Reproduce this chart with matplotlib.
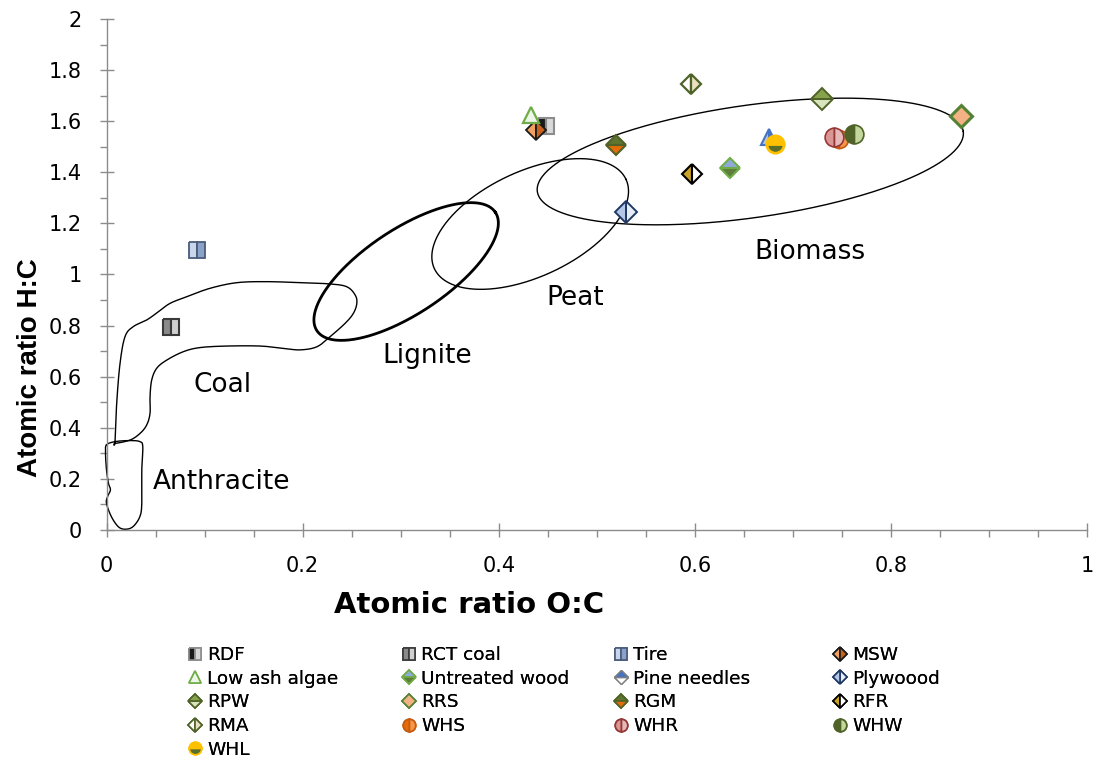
import numpy as np
import matplotlib
matplotlib.use("Agg")
import matplotlib.pyplot as plt
from matplotlib.lines import Line2D

# ---------------- data ----------------
names = ["RDF", "RCT coal", "Tire", "MSW", "Low ash algae", "Untreated wood",
         "Pine needles", "Plywoood", "RPW", "RRS", "RGM", "RFR", "RMA",
         "WHS", "WHR", "WHW", "WHL"]
oc_ratio = [0.448, 0.066, 0.092, 0.438, 0.433, 0.636, 0.676, 0.530, 0.730,
            0.871, 0.520, 0.597, 0.596, 0.747, 0.742, 0.762, 0.682]
hc_ratio = [1.581, 0.793, 1.096, 1.566, 1.624, 1.416, 1.537, 1.246, 1.686,
            1.620, 1.507, 1.393, 1.746, 1.530, 1.539, 1.550, 1.510]

# region outlines (O:C, H:C)
anthracite_x = [0.000, 0.009, 0.024, 0.034, 0.037, 0.036, 0.036, 0.034, 0.027,
                0.019, 0.012, 0.005, 0.000, 0.001, 0.004, 0.002, 0.000, -0.001]
anthracite_y = [0.333, 0.346, 0.350, 0.346, 0.326, 0.235, 0.104, 0.052, 0.013,
                0.003, 0.013, 0.052, 0.104, 0.130, 0.157, 0.183, 0.235, 0.300]
coal_x = [0.0087, 0.0104, 0.0138, 0.0189, 0.0273, 0.041, 0.0529, 0.0648, 0.0818,
          0.1056, 0.1329, 0.1635, 0.1974, 0.2281, 0.2451, 0.2536, 0.2553, 0.2518,
          0.2434, 0.2281, 0.2145, 0.1974, 0.1804, 0.1566, 0.1227, 0.0954, 0.0784,
          0.0614, 0.0512, 0.0461, 0.0444, 0.0444, 0.041, 0.0342, 0.024, 0.0087]
coal_y = [0.346, 0.496, 0.652, 0.757, 0.796, 0.822, 0.854, 0.887, 0.913,
          0.946, 0.968, 0.972, 0.968, 0.963, 0.952, 0.920, 0.887, 0.848,
          0.809, 0.757, 0.717, 0.705, 0.711, 0.720, 0.720, 0.714, 0.698,
          0.665, 0.633, 0.587, 0.522, 0.457, 0.411, 0.378, 0.352, 0.339]
# ellipses: centre and two conjugate half-axis vectors, in data units
lignite_ell = dict(c=(0.3056, 1.0117), u=(0.0910, 0.2317), v=(-0.0238, 0.1377))
peat_ell = dict(c=(0.4321, 1.1977), u=(0.0977, 0.1749), v=(-0.0227, 0.1866))
biomass_ell = dict(c=(0.6566, 1.4423), u=(0.2172, 0.1178), v=(-0.0080, 0.2181))

region_labels = ["Biomass", "Peat", "Lignite", "Coal", "Anthracite"]
region_label_x = [0.717, 0.478, 0.327, 0.118, 0.117]
region_label_y = [1.088, 0.908, 0.681, 0.568, 0.188]

# ---------------- styles ----------------
styles = {
    "RDF": dict(marker="s", ms=12, mfc="#1a1a1a", mfcalt="#d9d9d9", fillstyle="left", mec="#8c8c8c", mew=1.5),
    "RCT coal": dict(marker="s", ms=12, mfc="#8a8a8a", mfcalt="#d0d0d0", fillstyle="left", mec="#3a3a3a", mew=1.5),
    "Tire": dict(marker="s", ms=12, mfc="#c8d5ea", mfcalt="#8aa2c8", fillstyle="left", mec="#4a5b7b", mew=1.3),
    "MSW": dict(marker="D", ms=10.5, mfc="#f0a060", mfcalt="#c8621f", fillstyle="left", mec="#1a1a1a", mew=1.3),
    "Low ash algae": dict(marker="^", ms=12, mfc="#eef6e8", mfcalt="#eef6e8", fillstyle="full", mec="#70ad47", mew=1.6),
    "Untreated wood": dict(marker="D", ms=10.5, mfc="#8eaadb", mfcalt="#5f7d3a", fillstyle="top", mec="#70ad47", mew=1.5),
    "Pine needles": dict(marker="^", ms=12, mfc="#b9c6dc", mfcalt="#4472c4", fillstyle="left", mec="#4472c4", mew=1.5),
    "Plywoood": dict(marker="D", ms=11, mfc="#e6edf7", mfcalt="#b4c7e7", fillstyle="right", mec="#1f3864", mew=1.4),
    "RPW": dict(marker="D", ms=11.5, mfc="#d8e4bc", mfcalt="#86a34c", fillstyle="bottom", mec="#4f6228", mew=1.4),
    "RRS": dict(marker="D", ms=11, mfc="#f4b183", mfcalt="#f4b183", fillstyle="full", mec="#548235", mew=2.2),
    "RGM": dict(marker="D", ms=10.5, mfc="#5f7530", mfcalt="#e36c09", fillstyle="top", mec="#4f6228", mew=1.5),
    "RFR": dict(marker="D", ms=10.5, mfc="#c9a227", mfcalt="#ffffff", fillstyle="left", mec="#000000", mew=1.5),
    "RMA": dict(marker="D", ms=10.5, mfc="#ffffff", mfcalt="#e8e0c0", fillstyle="left", mec="#4f6228", mew=1.6),
    "WHS": dict(marker="o", ms=13, mfc="#e46c0a", mfcalt="#f79646", fillstyle="left", mec="#c55a11", mew=1.2),
    "WHR": dict(marker="o", ms=13.5, mfc="#d99694", mfcalt="#e6b9b8", fillstyle="left", mec="#953735", mew=1.2),
    "WHW": dict(marker="o", ms=13.5, mfc="#4f6228", mfcalt="#c3d69b", fillstyle="left", mec="#4f6228", mew=1.2),
    "WHL": dict(marker="o", ms=12.5, mfc="#ffc000", mfcalt="#5a6e2a", fillstyle="top", mec="#ffc000", mew=2.0),
}
legend_override = {"Pine needles": dict(marker="D", ms=8, mfc="#ffffff", mfcalt="#4472c4", fillstyle="bottom", mec="#7f7f7f", mew=1.0)}

# ---------------- figure ----------------
fig = plt.figure(figsize=(11, 7.6), dpi=100)
ax = fig.add_axes([106.5 / 1100, (760 - 530) / 760, 980.5 / 1100, 511 / 760])


def smooth_closed(xs, ys, n=12):
    xs = np.asarray(xs); ys = np.asarray(ys)
    m = len(xs)
    ox, oy = [], []
    for i in range(m):
        p0 = np.array([xs[(i - 1) % m], ys[(i - 1) % m]])
        p1 = np.array([xs[i], ys[i]])
        p2 = np.array([xs[(i + 1) % m], ys[(i + 1) % m]])
        p3 = np.array([xs[(i + 2) % m], ys[(i + 2) % m]])
        for t in np.linspace(0, 1, n, endpoint=False):
            t2, t3 = t * t, t * t * t
            p = 0.5 * ((2 * p1) + (-p0 + p2) * t + (2 * p0 - 5 * p1 + 4 * p2 - p3) * t2
                       + (-p0 + 3 * p1 - 3 * p2 + p3) * t3)
            ox.append(p[0]); oy.append(p[1])
    ox.append(ox[0]); oy.append(oy[0])
    return ox, oy


def ellipse_xy(e):
    t = np.linspace(0, 2 * np.pi, 400)
    cx, cy = e["c"]; ux, uy = e["u"]; vx, vy = e["v"]
    return cx + ux * np.cos(t) + vx * np.sin(t), cy + uy * np.cos(t) + vy * np.sin(t)


ax_, ay_ = smooth_closed(anthracite_x, anthracite_y)
ax.plot(ax_, ay_, color="black", lw=1.0, clip_on=False, zorder=2)
cx_, cy_ = smooth_closed(coal_x, coal_y)
ax.plot(cx_, cy_, color="black", lw=1.0, clip_on=False, zorder=2)
for e, lw in [(lignite_ell, 2.0), (peat_ell, 1.0), (biomass_ell, 1.0)]:
    ex, ey = ellipse_xy(e)
    ax.plot(ex, ey, color="black", lw=lw, zorder=2)

for lab, lx, ly in zip(region_labels, region_label_x, region_label_y):
    ax.text(lx, ly, lab, fontsize=19, family="DejaVu Sans", ha="center", va="center", color="black")

handles = []
for n, x, y in zip(names, oc_ratio, hc_ratio):
    s = styles[n]
    ax.plot([x], [y], linestyle="none", marker=s["marker"], markersize=s["ms"],
            markerfacecolor=s["mfc"], markerfacecoloralt=s["mfcalt"], fillstyle=s["fillstyle"],
            markeredgecolor=s["mec"], markeredgewidth=s["mew"], zorder=3)
    ls = legend_override.get(n, s)
    if ls["marker"] == "s":
        lms = 8
    elif ls["marker"] == "D":
        lms = 7.5
    else:
        lms = 9
    handles.append(Line2D([], [], linestyle="none", marker=ls["marker"], markersize=lms,
                          markerfacecolor=ls["mfc"], markerfacecoloralt=ls["mfcalt"],
                          fillstyle=ls["fillstyle"], markeredgecolor=ls["mec"],
                          markeredgewidth=min(ls["mew"], 1.2), label=n))

ax.set_xlim(0, 1)
ax.set_ylim(0, 2)
ax.set_xticks(np.arange(0, 1.01, 0.2))
ax.set_xticklabels(["0", "0.2", "0.4", "0.6", "0.8", "1"])
ax.set_yticks(np.arange(0, 2.01, 0.2))
ax.set_yticklabels(["0", "0.2", "0.4", "0.6", "0.8", "1", "1.2", "1.4", "1.6", "1.8", "2"])
ax.set_xticks(np.arange(0, 1.001, 0.05), minor=True)
ax.set_yticks(np.arange(0, 2.001, 0.1), minor=True)
for sp in ["top", "right"]:
    ax.spines[sp].set_visible(False)
for sp in ["left", "bottom"]:
    ax.spines[sp].set_color("#8c8c8c")
    ax.spines[sp].set_linewidth(1.0)
ax.tick_params(which="major", direction="inout", length=10, color="#8c8c8c", width=1.0,
               labelsize=15, labelcolor="black")
ax.tick_params(axis="x", which="major", pad=14)
ax.tick_params(axis="y", which="major", pad=13)
ax.tick_params(which="minor", direction="out", length=5, color="#8c8c8c", width=1.0)
for lbl in ax.get_xticklabels() + ax.get_yticklabels():
    lbl.set_family("DejaVu Sans")

ax.set_xlabel("Atomic ratio O:C", fontsize=21, fontweight="bold", family="DejaVu Sans")
ax.xaxis.set_label_coords((469.5 - 106.5) / 980.5, (530 - 605) / 511)
ax.xaxis.label.set_va("center")
ax.set_ylabel("Atomic ratio H:C", fontsize=20, fontweight="bold", family="Liberation Sans")
ax.yaxis.set_label_coords((30 - 106.5) / 980.5, (530 - 368) / 511)
ax.yaxis.label.set_va("center")

# legend: 4 columns filled row-wise
col_x = [189, 403, 615, 834]
for c in range(4):
    hs = handles[c::4]
    leg = fig.legend(handles=hs, loc="upper left",
                     bbox_to_anchor=(col_x[c] / 1100, 1 - 646 / 760),
                     frameon=False, ncol=1, handlelength=0.7, handletextpad=0.3,
                     labelspacing=0.31, borderpad=0.0, borderaxespad=0.0,
                     prop={"family": "DejaVu Sans", "size": 13.3})
    fig.add_artist(leg)

fig.savefig("out.png", dpi=100)
